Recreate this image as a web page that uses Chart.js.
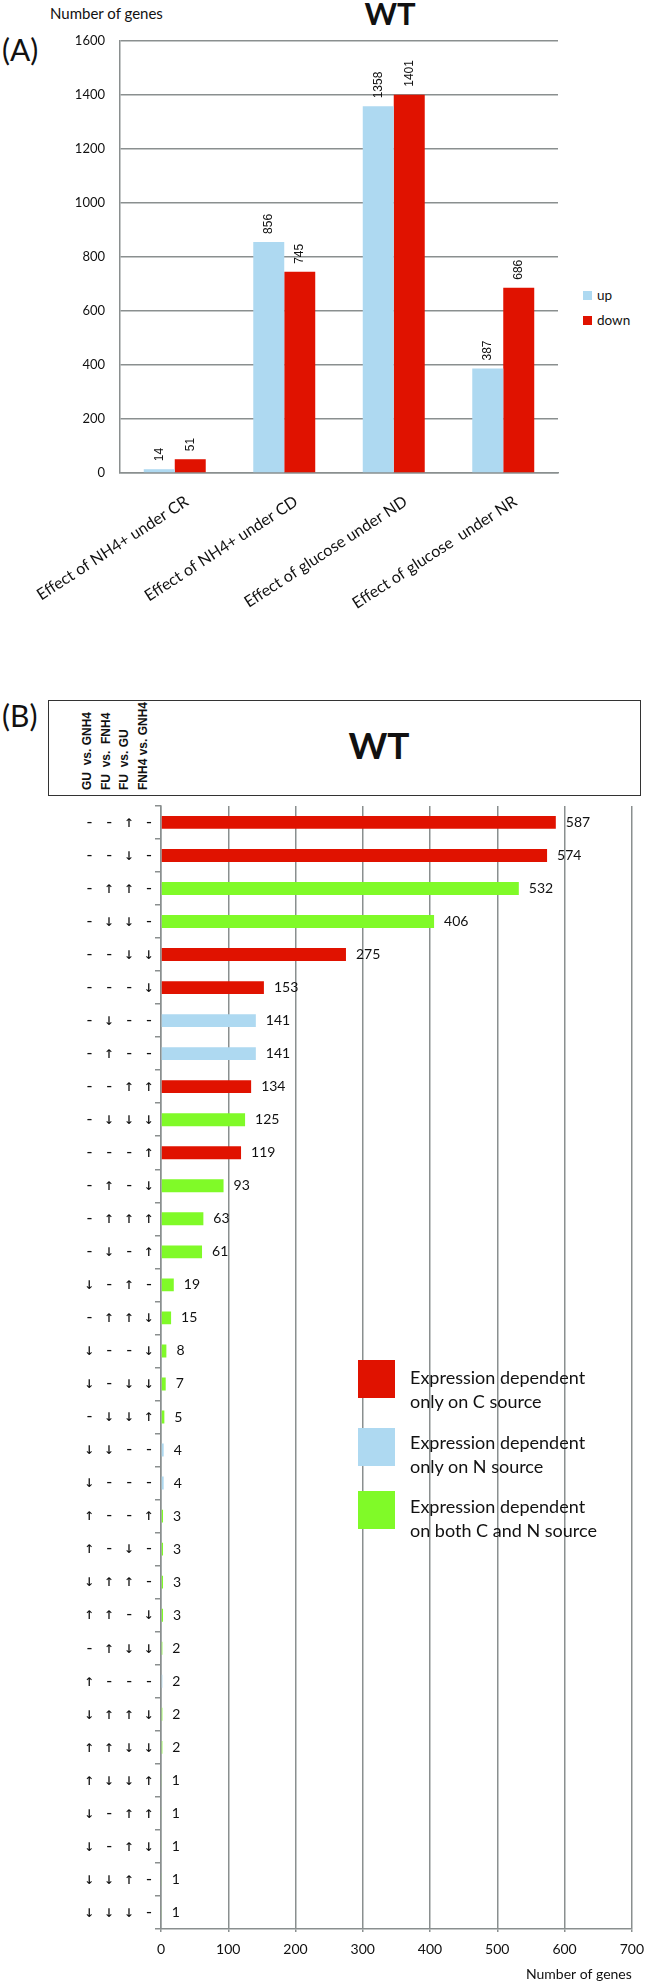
<!DOCTYPE html>
<html lang="en">
<head>
  <meta charset="UTF-8">
  <title>WT gene counts</title>
  <script src="https://cdn.jsdelivr.net/npm/chart.js"></script>
  <style>
    body { margin: 0; background: #fff; }
    #page { position: relative; width: 653px; height: 1984px; background: #fff; overflow: hidden;
            font-family: Lato, "Liberation Sans", sans-serif; color: #111; }
    canvas { position: absolute; left: 0; }
    .txt { position: absolute; white-space: nowrap; }
    .sw { position: absolute; }
    .hdr { position: absolute; top: 700px; height: 90px; width: 15px; line-height: 15px; white-space: nowrap;
           writing-mode: vertical-rl; transform: rotate(180deg);
           font: bold 12px "Liberation Sans", sans-serif; color: #111; }
    #boxB { position: absolute; left: 48px; top: 700px; width: 591px; height: 94px; border: 1px solid #333; }
  </style>
</head>
<body>
<div id="page">
  <!-- panel A texts -->
  <div class="txt" style="left:2px;top:31px;font-size:30px;line-height:36px;">(A)</div>
  <div class="txt" style="left:50px;top:4px;font-size:15px;line-height:18px;">Number of genes</div>
  <div class="txt" style="left:390px;top:-5px;transform:translateX(-50%);font-size:31px;font-weight:bold;line-height:36px;">WT</div>
  <div class="sw" style="left:583px;top:291px;width:9px;height:9px;background:#aed9f1;"></div>
  <div class="txt" style="left:597px;top:287px;font-size:13.5px;line-height:16px;">up</div>
  <div class="sw" style="left:583px;top:316px;width:9px;height:9px;background:#e01200;"></div>
  <div class="txt" style="left:597px;top:312px;font-size:13.5px;line-height:16px;">down</div>

  <canvas id="chartA" width="653" height="660" style="top:0;"></canvas>

  <!-- panel B header -->
  <div class="txt" style="left:2px;top:697px;font-size:30px;line-height:36px;">(B)</div>
  <div id="boxB"></div>
  <div class="hdr" style="left:80px;">GU&nbsp; vs. GNH4</div>
  <div class="hdr" style="left:99px;">FU&nbsp; vs.&nbsp; FNH4</div>
  <div class="hdr" style="left:117px;">FU&nbsp; vs. GU</div>
  <div class="hdr" style="left:136px;">FNH4 vs. GNH4</div>
  <div class="txt" style="left:379px;top:724px;transform:translateX(-50%);font-size:37px;font-weight:bold;line-height:42px;">WT</div>

  <canvas id="chartB" width="653" height="1189" style="top:795px;"></canvas>

  <!-- panel B legend -->
  <div class="sw" style="left:358px;top:1360px;width:37px;height:38px;background:#e01200;"></div>
  <div class="txt" style="left:410px;top:1365px;font-size:18px;line-height:24px;">Expression dependent<br>only on C source</div>
  <div class="sw" style="left:358px;top:1428px;width:37px;height:38px;background:#aed9f1;"></div>
  <div class="txt" style="left:410px;top:1430px;font-size:18px;line-height:24px;">Expression dependent<br>only on N source</div>
  <div class="sw" style="left:358px;top:1491px;width:37px;height:38px;background:#80fa28;"></div>
  <div class="txt" style="left:410px;top:1494px;font-size:18px;line-height:24px;">Expression dependent<br>on both C and N source</div>
</div>

<script>
  // ---- panel A data ----
  const aCategories = ['Effect of NH4+ under CR', 'Effect of NH4+ under CD',
                       'Effect of glucose under ND', 'Effect of glucose  under NR'];
  const aUp = [14, 856, 1358, 387];
  const aDown = [51, 745, 1401, 686];
  const aMax = 1600, aStep = 200;

  // ---- panel B data (GU vs GNH4, FU vs FNH4, FU vs GU, FNH4 vs GNH4) ----
  const bPatterns = [
    '- - ↑ -', '- - ↓ -', '- ↑ ↑ -', '- ↓ ↓ -', '- - ↓ ↓', '- - - ↓', '- ↓ - -',
    '- ↑ - -', '- - ↑ ↑', '- ↓ ↓ ↓', '- - - ↑', '- ↑ - ↓', '- ↑ ↑ ↑', '- ↓ - ↑',
    '↓ - ↑ -', '- ↑ ↑ ↓', '↓ - - ↓', '↓ - ↓ ↓', '- ↓ ↓ ↑', '↓ ↓ - -', '↓ - - -',
    '↑ - - ↑', '↑ - ↓ -', '↓ ↑ ↑ -', '↑ ↑ - ↓', '- ↑ ↓ ↓', '↑ - - -', '↓ ↑ ↑ ↓',
    '↑ ↑ ↓ ↓', '↑ ↓ ↓ ↑', '↓ - ↑ ↑', '↓ - ↑ ↓', '↓ ↓ ↑ -', '↓ ↓ ↓ -'
  ];
  const bCounts = [587, 574, 532, 406, 275, 153, 141, 141, 134, 125, 119, 93, 63, 61,
                   19, 15, 8, 7, 5, 4, 4, 3, 3, 3, 3, 2, 2, 2, 2, 1, 1, 1, 1, 1];
  // C = only C source, N = only N source, CN = both
  const bGroups = ['C', 'C', 'CN', 'CN', 'C', 'C', 'N', 'N', 'C', 'CN', 'C', 'CN', 'CN', 'CN',
                   'CN', 'CN', 'CN', 'CN', 'CN', 'N', 'N', 'CN', 'CN', 'CN', 'CN', 'CN', 'N', 'CN',
                   'CN', 'CN', 'CN', 'CN', 'CN', 'CN'];
  const bMax = 700, bStep = 100;

  const RED = '#e01200', BLUE = '#aed9f1', GREEN = '#80fa28';
  const groupColor = { C: RED, N: BLUE, CN: GREEN };
  const GRID = '#8a8f8f';

  // value labels next to / above the bars
  const valueLabels = {
    id: 'valueLabels',
    afterDatasetsDraw(chart, args, opts) {
      const ctx = chart.ctx;
      ctx.save();
      ctx.fillStyle = '#111';
      ctx.font = opts.font;
      chart.data.datasets.forEach((ds, i) => {
        chart.getDatasetMeta(i).data.forEach((bar, j) => {
          const v = ds.data[j];
          if (v == null) return;
          if (opts.vertical) {
            ctx.save();
            ctx.translate(bar.x, bar.y - opts.gap);
            ctx.rotate(-Math.PI / 2);
            ctx.textAlign = 'left';
            ctx.textBaseline = 'middle';
            ctx.fillText(String(v), 0, 0);
            ctx.restore();
          } else {
            ctx.textAlign = 'left';
            ctx.textBaseline = 'middle';
            ctx.fillText(String(v), bar.x + opts.gap, bar.y);
          }
        });
      });
      ctx.restore();
    }
  };

  new Chart(document.getElementById('chartA'), {
    type: 'bar',
    data: {
      labels: aCategories,
      datasets: [
        { label: 'up', data: aUp, backgroundColor: BLUE, categoryPercentage: 0.566, barPercentage: 1 },
        { label: 'down', data: aDown, backgroundColor: RED, categoryPercentage: 0.566, barPercentage: 1 }
      ]
    },
    options: {
      responsive: false,
      animation: false,
      layout: { padding: { top: 41, right: 95, left: 0, bottom: 0 } },
      scales: {
        x: {
          grid: { display: false },
          border: { display: true, color: GRID, width: 1.5 },
          ticks: {
            autoSkip: false, minRotation: 33, maxRotation: 33, labelOffset: 12, padding: 11,
            color: '#111', font: { family: 'Lato', size: 16 }
          },
          afterFit: s => { s.height = 187; }
        },
        y: {
          min: 0, max: aMax,
          grid: { color: GRID, lineWidth: 1.5, drawTicks: false },
          border: { display: true, color: GRID, width: 1.5 },
          ticks: { stepSize: aStep, padding: 15, color: '#111', font: { family: 'Lato', size: 13 },
                   callback: v => String(v) },
          afterFit: s => { s.width = 120; }
        }
      },
      plugins: {
        legend: { display: false },
        tooltip: { enabled: false },
        valueLabels: { vertical: true, gap: 8, font: '12px "Liberation Sans"' }
      }
    },
    plugins: [valueLabels]
  });

  new Chart(document.getElementById('chartB'), {
    type: 'bar',
    data: {
      labels: bPatterns,
      datasets: [{
        data: bCounts,
        backgroundColor: bGroups.map(g => groupColor[g]),
        categoryPercentage: 1, barPercentage: 0.39
      }]
    },
    options: {
      indexAxis: 'y',
      responsive: false,
      animation: false,
      layout: { padding: { top: 0, right: 13, left: 0, bottom: 0 } },
      scales: {
        x: {
          min: 0, max: bMax,
          grid: { color: GRID, lineWidth: 1.5, tickLength: 3 },
          border: { display: true, color: GRID, width: 1.5 },
          ticks: { stepSize: bStep, padding: 9, color: '#111', font: { family: 'Lato', size: 14 } },
          title: {
            display: true, text: 'Number of genes', align: 'end', color: '#111',
            font: { family: 'Lato', size: 14 }, padding: { top: 0, bottom: 1 }
          },
          afterFit: s => { s.height = 55; }
        },
        y: {
          grid: { drawOnChartArea: false, tickLength: 6, color: GRID, lineWidth: 1.5 },
          border: { display: true, color: GRID, width: 1.5 },
          ticks: { autoSkip: false, padding: 1, color: '#111',
                   font: { family: 'DejaVu Sans Mono', size: 16.5 } },
          afterFit: s => { s.width = 161; }
        }
      },
      plugins: {
        legend: { display: false },
        tooltip: { enabled: false },
        valueLabels: { vertical: false, gap: 10, font: '14px Lato' }
      }
    },
    plugins: [valueLabels]
  });
</script>
</body>
</html>
